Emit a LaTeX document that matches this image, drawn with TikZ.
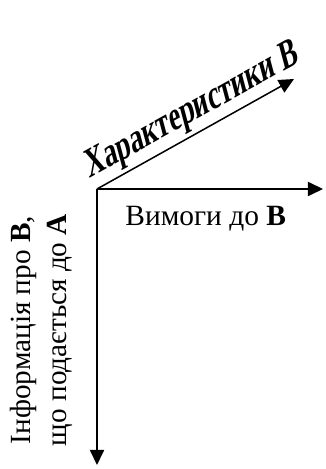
\documentclass[tikz,border=0pt]{standalone}
\usepackage{fontspec}
\setmainfont{Liberation Serif}
\usetikzlibrary{arrows.meta}
\tikzset{axis/.style={line width=0.8pt,-{Triangle[length=8pt,width=7.5pt]}}}
\begin{document}
\begin{tikzpicture}[x=0.53pt,y=-0.53pt]
    \useasboundingbox (0,0) rectangle (325,469);
    \coordinate (o) at (97,189);
    \coordinate (ch) at (294,79);
    \coordinate (req) at (323,189);
    \coordinate (inf) at (97,465);
    \node (chtext) [anchor=base west,rotate=29,xslant=0.25,yscale=1.4,inner sep=0pt,
        font=\fontsize{15}{18}\selectfont\bfseries] at (89,179) {Характеристики В};
    \node (reqtext) [anchor=base west,inner sep=0pt,
        font=\fontsize{15.6}{19}\selectfont] at (125,225) {Вимоги до \textbf{В}};
    \node (inftext) [rotate=90,align=center,inner sep=0pt,
        font=\fontsize{15.5}{19}\selectfont] at (41,330)
        {Інформація про \textbf{В},\\ що подається до \textbf{А}};
    \begin{scope}[axis]
        \draw (o) -- (ch);
        \draw (o) -- (req);
        \draw (o) -- (inf);
    \end{scope}
\end{tikzpicture}
\end{document}
